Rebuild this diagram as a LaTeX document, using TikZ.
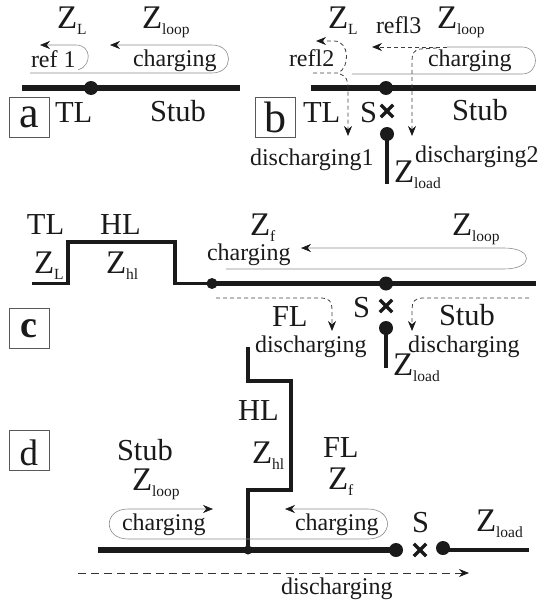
\documentclass[tikz,border=0pt]{standalone}
\usepackage{fontspec}
\setmainfont{Liberation Serif}
\usetikzlibrary{arrows.meta,shapes.misc}
\definecolor{ink}{HTML}{1A1A1A}
\newcommand{\fsz}[1]{\fontsize{#1}{#1}\selectfont}
\newcommand{\Zs}[1]{{\fsz{33}Z}\raisebox{-6.5pt}[0pt][0pt]{\fsz{15.5}#1}}
\tikzset{
  x=1pt,y=1pt,
  big/.style={anchor=base west,inner sep=0pt,outer sep=0pt,text=ink,font=\fsz{30.5}},
  mid/.style={anchor=base west,inner sep=0pt,outer sep=0pt,text=ink,font=\fsz{24}},
  panel/.style={draw=black!65,line width=0.7pt,minimum size=40pt,inner sep=0pt,text=ink,text height=#1,text depth=0pt},
  dot/.style={circle,fill=ink,inner sep=0pt,minimum size=#1},
  dot/.default=14pt,
  wire/.style={draw=ink,line width=#1,line cap=butt},
  wire/.default=6pt,
  jmp/.style={draw=ink,line width=3.5pt,line join=miter},
  thinl/.style={draw=black!45,line width=0.6pt},
  dashl/.style={draw=black!75,line width=0.8pt,dash pattern=on 4pt off 3pt},
  head/.style={-{Stealth[length=10pt,width=8pt,color=ink]}},
  sw/.style={cross out,draw=ink,line width=3.4pt,minimum size=9pt,inner sep=0pt},
}
\begin{document}
\begin{tikzpicture}
\useasboundingbox (0,0) rectangle (542,-605);
% ---------- panel a
\node[panel=20pt,font=\fsz{44}] (boxa) at (29,-117) {a};
\coordinate (a0) at (22,-88); \coordinate (a1) at (240,-88);
\draw[wire] (a0) -- (a1);
\node[dot] (adot) at (91,-88) {};
\node[big] (aZL) at (57,-28) {\Zs{L}};
\node[big] (aZloop) at (142,-28) {\Zs{loop}};
\node[mid] (aref) at (31,-67) {ref 1};
\node[mid] (achg) at (133,-66) {charging};
\node[big] (aTL) at (55,-122) {TL};
\node[big] (aStub) at (150,-121) {Stub};
\coordinate (r1a) at (78,-70); \coordinate (r1b) at (40,-45);
\draw[thinl,head] (r1a) .. controls (92,-66) and (92,-45) .. (76,-45) -- (r1b);
\coordinate (c1a) at (30,-73); \coordinate (c1b) at (110,-45);
\draw[thinl,head] (c1a) -- (212,-73) .. controls (234,-73) and (234,-45) .. (212,-45) -- (c1b);
% ---------- panel b
\node[panel=30pt,font=\fsz{44}] (boxb) at (275,-117) {b};
\coordinate (b0) at (311,-88); \coordinate (b1) at (536,-88);
\draw[wire] (b0) -- (b1);
\node[dot] (bdot) at (386,-88) {};
\node[sw] (bsw) at (387,-111) {};
\node[dot] (bdot2) at (387,-134) {};
\coordinate (bend) at (387,-184);
\draw[wire=4pt] (bdot2.center) -- (bend);
\node[big] (bZL) at (328,-28) {\Zs{L}};
\node[mid] (bref3) at (376,-33) {refl3};
\node[big] (bZloop) at (437,-28) {\Zs{loop}};
\node[mid] (bref2) at (289,-66) {refl2};
\node[mid] (bchg) at (428,-66) {charging};
\node[big] (bTL) at (303,-122) {TL};
\node[big] (bS) at (360,-122) {S};
\node[big] (bStub) at (452,-120) {Stub};
\node[mid] (bd1) at (250,-165) {discharging1};
\node[mid] (bd2) at (415,-162) {discharging2};
\node[big] (bZl) at (394,-182) {\Zs{load}};
\coordinate (bt0) at (352,-74); \coordinate (bt1) at (447,-47);
\draw[thinl] (bt0) -- (522,-74) .. controls (540,-74) and (540,-47) .. (522,-47) -- (bt1);
\coordinate (bh) at (447,-47); \coordinate (br3) at (372,-47);
\draw[dashl,head] (bh) -- (br3);
\coordinate (br2s) at (313,-73); \coordinate (br2e) at (316,-41);
\draw[dashl,head] (br2s) -- (338,-73) .. controls (350,-68) and (350,-41) .. (334,-41) -- (br2e);
\coordinate (bd1s) at (340,-74); \coordinate (bd1e) at (348,-136);
\draw[dashl,head] (bd1s) .. controls (346,-76) and (348,-80) .. (348,-88) -- (bd1e);
\coordinate (bd2s) at (437,-48); \coordinate (bd2e) at (412,-136);
\draw[dashl,head] (bd2s) -- (420,-49) .. controls (414,-50) and (412,-54) .. (412,-60) -- (bd2e);
% ---------- panel c
\node[panel=18pt,font=\fsz{38}\bfseries] (boxc) at (29,-328) {c};
\node[big] (cTL) at (27,-234) {TL};
\node[big] (cHL) at (100,-234) {HL};
\node[big] (cZL) at (34,-273) {\Zs{L}};
\node[big] (cZhl) at (106,-273) {\Zs{hl}};
\node[big] (cZf) at (250,-235) {\Zs{f}};
\node[mid] (cchg) at (207,-260) {charging};
\node[big] (cZloop) at (452,-235) {\Zs{loop}};
\coordinate (c0) at (32,-283.5);
\node[dot=11pt] (cdot1) at (212,-283.5) {};
\draw[jmp] (c0) -- (68,-283.5) -- (68,-242) -- (175,-242) -- (175,-283.5) -- (cdot1.center);
\coordinate (c1) at (536,-283.5);
\draw[wire=5.5pt] (cdot1.center) -- (c1);
\node[dot] (cdot) at (386,-283.5) {};
\node[sw] (csw) at (386,-306) {};
\node[dot] (cdot2) at (386,-328) {};
\coordinate (cend) at (386,-368);
\draw[wire=4pt] (cdot2.center) -- (cend);
\coordinate (ct0) at (226,-269); \coordinate (ct1) at (301,-248);
\draw[thinl,head] (ct0) -- (504,-269) .. controls (534,-269) and (534,-248) .. (504,-248) -- (ct1);
\coordinate (cdl0) at (216,-298); \coordinate (cdl1) at (332,-331);
\draw[dashl,head] (cdl0) -- (322,-298) .. controls (329,-298) and (332,-302) .. (332,-309) -- (cdl1);
\coordinate (cdr0) at (529,-298); \coordinate (cdr1) at (412,-331);
\draw[dashl,head] (cdr0) -- (422,-298) .. controls (415,-298) and (412,-302) .. (412,-309) -- (cdr1);
\node[big] (cFL) at (272,-326) {FL};
\node[big] (cS) at (353,-317) {S};
\node[big] (cStub) at (439,-325) {Stub};
\node[mid] (cd1) at (255,-352) {discharging};
\node[mid] (cd2) at (408,-352) {discharging};
\node[big] (cZl) at (393,-375) {\Zs{load}};
% ---------- panel d
\node[panel=30pt,font=\fsz{37}] (boxd) at (29,-450) {d};
\coordinate (d0) at (98,-550);
\node[dot] (ddot1) at (396,-550) {};
\draw[wire] (d0) -- (ddot1.center);
\node[dot=9pt] (ddot0) at (248,-550) {};
\coordinate (dtop) at (248,-347);
\draw[jmp] (dtop) -- (248,-381) -- (291,-381) -- (291,-490) -- (248,-490) -- (ddot0.center);
\node[sw] (dsw) at (420,-550) {};
\node[dot] (ddot2) at (443,-548) {};
\coordinate (dend) at (529,-550);
\draw[wire=3.5pt] (ddot2.center |- dend) -- (dend);
\node[big] (dHL) at (238,-420) {HL};
\node[big] (dZhl) at (252,-463) {\Zs{hl}};
\node[big] (dStub) at (117,-460) {Stub};
\node[big] (dZloop) at (132,-490) {\Zs{loop}};
\node[big] (dFL) at (323,-457) {FL};
\node[big] (dZf) at (328,-489) {\Zs{f}};
\node[big] (dS) at (412,-532) {S};
\node[big] (dZl) at (476,-531) {\Zs{load}};
\node[mid] (dc1) at (122,-530) {charging};
\node[mid] (dc2) at (295,-530) {charging};
\node[mid] (dd) at (281,-594) {discharging};
\coordinate (dt0) at (248,-539); \coordinate (dt1) at (213,-509);
\draw[thinl,head] (dt0) -- (128,-539) .. controls (103,-539) and (103,-509) .. (128,-509) -- (dt1);
\coordinate (dt2) at (248,-539); \coordinate (dt3) at (285,-509);
\draw[thinl,head] (dt2) -- (368,-539) .. controls (394,-539) and (394,-509) .. (368,-509) -- (dt3);
\coordinate (dd0) at (78,-573); \coordinate (dd1) at (469,-573);
\draw[draw=black!80,line width=0.8pt,dash pattern=on 8pt off 5pt,head] (dd0) -- (dd1);
\end{tikzpicture}
\end{document}
